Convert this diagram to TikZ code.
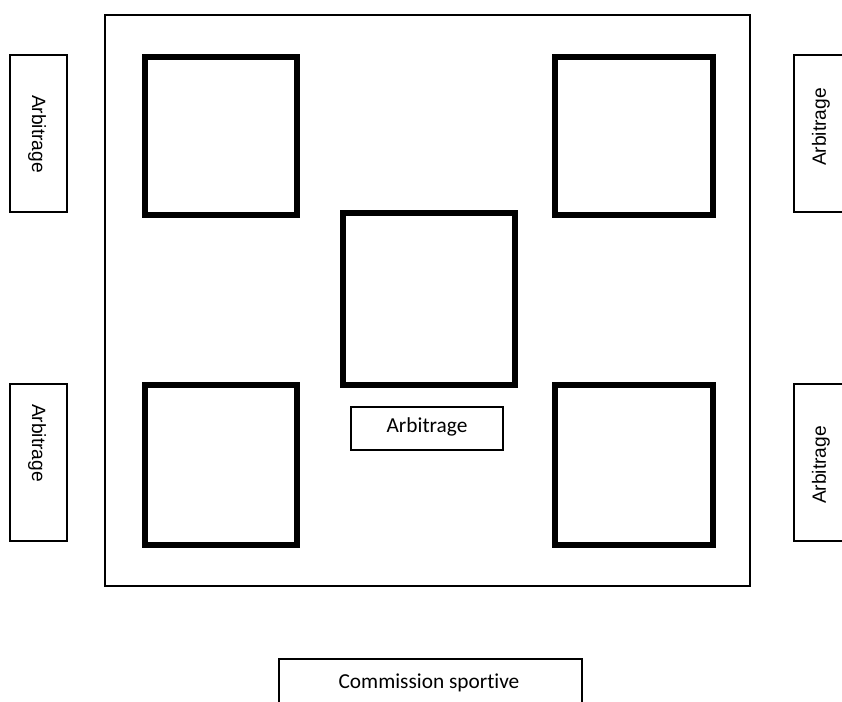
\documentclass[tikz,border=0pt]{standalone}
\usepackage{fontspec}
\newfontfamily\arialf{Liberation Sans}
\newfontfamily\calf[Ligatures=NoCommon]{Carlito}
\begin{document}
\begin{tikzpicture}[x=0.75pt,y=-0.75pt,
  frame/.style={draw=black,line width=1.5pt},
  court/.style={draw=black,line width=3.8pt},
  thinbox/.style={draw=black,line width=1.5pt},
  sidelabel/.style={font=\arialf\fontsize{14.4}{16}\selectfont,inner sep=0pt},
  calabel/.style={font=\calf\fontsize{16}{18}\selectfont,inner sep=0pt}]
\useasboundingbox[fill=white] (0,0) rectangle (842,702);
% outer frame
\draw[frame] (105,15) rectangle (750,586);
% courts
\draw[court] (145,57) rectangle (297,215);
\draw[court] (555,57) rectangle (713,215);
\draw[court] (343,213) rectangle (515,385);
\draw[court] (145,385) rectangle (297,545);
\draw[court] (555,385) rectangle (713,545);
% side arbitrage boxes
\draw[thinbox] (10,55) rectangle (67,212);
\draw[thinbox] (10,384) rectangle (67,541);
\draw[thinbox] (794,55) rectangle (860,212);
\draw[thinbox] (794,384) rectangle (860,541);
\node[sidelabel,rotate=-90] (al1) at (37,134) {Arbitrage};
\node[sidelabel,rotate=-90] (al2) at (37,443) {Arbitrage};
\node[sidelabel,rotate=90] (ar1) at (821,127) {Arbitrage};
\node[sidelabel,rotate=90] (ar2) at (821,465) {Arbitrage};
% center arbitrage
\draw[thinbox] (351,407) rectangle (503,450);
\node[calabel] (ac) at (427,427) {Arbitrage};
% commission sportive
\draw[thinbox] (279,659) rectangle (582,720);
\node[calabel] (cs) at (429,683) {Commission sportive};
\end{tikzpicture}
\end{document}
